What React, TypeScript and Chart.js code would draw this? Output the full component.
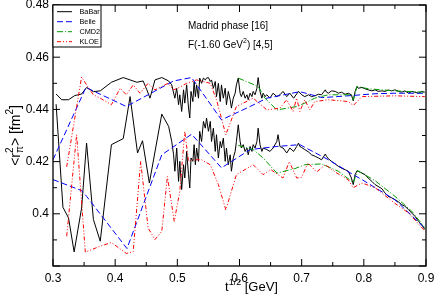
import React, { useEffect, useRef } from 'react';
import { Chart, registerables } from 'chart.js';

Chart.register(...registerables);

const FONT = '"Liberation Sans", Arial, Helvetica, sans-serif';

// ---------- axis ticks ----------
const xMajorTicks = [0.3, 0.4, 0.5, 0.6, 0.7, 0.8, 0.9];
const xMinorTicks = [0.35, 0.45, 0.55, 0.65, 0.75, 0.85];
const yMajorTicks = [0.38, 0.4, 0.42, 0.44, 0.46, 0.48];
const yMinorTicks = [0.39, 0.41, 0.43, 0.45, 0.47];
const yLabelledTicks = [0.4, 0.42, 0.44, 0.46, 0.48];

const seriesNames = ['BaBar', 'Belle', 'CMD2', 'KLOE'];
const annotationLine1 = 'Madrid phase [16]';
const annotationLine2 = ['F(-1.60 GeV', '2', ') [4,5]'];

// ---------- data: [sqrt(t) GeV, <r^2> fm^2] ----------
const babarUpper: [number, number][] = [
  [0.305, 0.4459], [0.314, 0.4437], [0.325, 0.4437], [0.335, 0.4453], [0.346, 0.4459], [0.354, 0.4484],
  [0.365, 0.4468], [0.376, 0.4471], [0.394, 0.4504], [0.413, 0.4522], [0.424, 0.4513], [0.435, 0.4504],
  [0.445, 0.4509], [0.451, 0.4475], [0.456, 0.4443], [0.464, 0.4513], [0.475, 0.4522], [0.486, 0.4509],
  [0.491, 0.4494], [0.496, 0.4443], [0.499, 0.4481], [0.502, 0.4418], [0.504, 0.4456], [0.507, 0.4392],
  [0.510, 0.4475], [0.512, 0.4424], [0.515, 0.4494], [0.518, 0.4405], [0.520, 0.4367], [0.522, 0.4469],
  [0.525, 0.4430], [0.527, 0.4507], [0.529, 0.4449], [0.531, 0.4494], [0.534, 0.4443], [0.536, 0.4520],
  [0.539, 0.4500], [0.542, 0.4520], [0.545, 0.4513], [0.547, 0.4520], [0.550, 0.4522], [0.553, 0.4507],
  [0.555, 0.4513], [0.558, 0.4481], [0.561, 0.4507], [0.563, 0.4449], [0.566, 0.4500], [0.569, 0.4430],
  [0.571, 0.4494], [0.574, 0.4443], [0.577, 0.4481], [0.579, 0.4418], [0.582, 0.4469], [0.585, 0.4437],
  [0.587, 0.4405], [0.590, 0.4443], [0.593, 0.4462], [0.595, 0.4494], [0.598, 0.4520], [0.601, 0.4462],
  [0.603, 0.4449], [0.606, 0.4469], [0.609, 0.4443], [0.612, 0.4456], [0.614, 0.4437], [0.617, 0.4462],
  [0.620, 0.4449], [0.622, 0.4469], [0.625, 0.4456], [0.628, 0.4481], [0.630, 0.4522], [0.633, 0.4469],
  [0.636, 0.4443], [0.638, 0.4462], [0.641, 0.4449], [0.644, 0.4456], [0.649, 0.4443], [0.654, 0.4462],
  [0.660, 0.4449], [0.665, 0.4456], [0.670, 0.4469], [0.676, 0.4449], [0.681, 0.4462], [0.687, 0.4443],
  [0.695, 0.4469], [0.700, 0.4456], [0.705, 0.4449], [0.711, 0.4456], [0.716, 0.4449], [0.722, 0.4453],
  [0.727, 0.4458], [0.732, 0.4456], [0.738, 0.4475], [0.740, 0.4466], [0.743, 0.4462], [0.748, 0.4471],
  [0.754, 0.4469], [0.759, 0.4462], [0.764, 0.4466], [0.770, 0.4458], [0.775, 0.4462], [0.780, 0.4456],
  [0.783, 0.4433], [0.786, 0.4469], [0.789, 0.4488], [0.791, 0.4481], [0.797, 0.4484], [0.802, 0.4479],
  [0.807, 0.4475], [0.813, 0.4471], [0.818, 0.4475], [0.823, 0.4469], [0.829, 0.4471], [0.834, 0.4469],
  [0.839, 0.4474], [0.845, 0.4471], [0.850, 0.4475], [0.856, 0.4469], [0.861, 0.4466], [0.866, 0.4471],
  [0.872, 0.4462], [0.877, 0.4469], [0.882, 0.4466], [0.888, 0.4462], [0.893, 0.4469], [0.898, 0.4466],
];

const babarLower: [number, number][] = [
  [0.305, 0.4420], [0.316, 0.4025], [0.325, 0.3984], [0.334, 0.3854], [0.346, 0.4022], [0.354, 0.4271],
  [0.365, 0.3978], [0.376, 0.3895], [0.394, 0.4265], [0.413, 0.4288], [0.424, 0.4449], [0.436, 0.4233],
  [0.444, 0.4280], [0.455, 0.4118], [0.475, 0.4382], [0.486, 0.4335],
  [0.491, 0.4277], [0.494, 0.4226], [0.496, 0.4163], [0.499, 0.4252], [0.502, 0.4124], [0.504, 0.4201],
  [0.507, 0.4093], [0.510, 0.4188], [0.512, 0.4137], [0.515, 0.4239], [0.518, 0.4150], [0.520, 0.4099],
  [0.522, 0.4214], [0.525, 0.4201], [0.527, 0.4265], [0.529, 0.4188], [0.531, 0.4252], [0.534, 0.4201],
  [0.536, 0.4316], [0.539, 0.4277], [0.542, 0.4354], [0.545, 0.4328], [0.547, 0.4367], [0.550, 0.4316],
  [0.553, 0.4354], [0.555, 0.4277], [0.558, 0.4328], [0.561, 0.4239], [0.563, 0.4303], [0.566, 0.4214],
  [0.569, 0.4277], [0.571, 0.4252], [0.574, 0.4290], [0.577, 0.4201], [0.579, 0.4252], [0.582, 0.4188],
  [0.585, 0.4226], [0.587, 0.4163], [0.590, 0.4214], [0.593, 0.4239], [0.595, 0.4277], [0.598, 0.4341],
  [0.601, 0.4277], [0.603, 0.4252], [0.606, 0.4265], [0.609, 0.4239], [0.612, 0.4252], [0.614, 0.4226],
  [0.617, 0.4258], [0.620, 0.4239], [0.622, 0.4265], [0.625, 0.4252], [0.628, 0.4277], [0.630, 0.4328],
  [0.633, 0.4265], [0.636, 0.4239], [0.638, 0.4252], [0.644, 0.4246], [0.649, 0.4239], [0.654, 0.4252],
  [0.660, 0.4277], [0.662, 0.4303], [0.665, 0.4258], [0.670, 0.4252], [0.676, 0.4233], [0.681, 0.4252],
  [0.687, 0.4239], [0.692, 0.4258], [0.695, 0.4271], [0.697, 0.4258], [0.700, 0.4254], [0.705, 0.4246],
  [0.711, 0.4237], [0.716, 0.4226], [0.722, 0.4220], [0.727, 0.4214], [0.732, 0.4207], [0.738, 0.4229],
  [0.740, 0.4220], [0.743, 0.4211], [0.748, 0.4201], [0.754, 0.4191], [0.759, 0.4182], [0.764, 0.4175],
  [0.770, 0.4169], [0.775, 0.4163], [0.780, 0.4137], [0.783, 0.4112], [0.786, 0.4150], [0.789, 0.4165],
  [0.791, 0.4163], [0.797, 0.4156], [0.802, 0.4150], [0.807, 0.4137], [0.813, 0.4124], [0.818, 0.4112],
  [0.823, 0.4105], [0.829, 0.4096], [0.834, 0.4080], [0.839, 0.4067], [0.845, 0.4061], [0.850, 0.4054],
  [0.856, 0.4045], [0.861, 0.4035], [0.866, 0.4029], [0.872, 0.4016], [0.877, 0.4003], [0.882, 0.3991],
  [0.888, 0.3971], [0.893, 0.3959], [0.898, 0.3940],
];

const belleUpper: [number, number][] = [
  [0.300, 0.4207], [0.353, 0.4484], [0.418, 0.4411], [0.494, 0.4509], [0.523, 0.4522], [0.571, 0.4360],
  [0.617, 0.4411], [0.644, 0.4443], [0.697, 0.4468], [0.716, 0.4456], [0.733, 0.4445], [0.780, 0.4453],
  [0.818, 0.4460], [0.850, 0.4462], [0.898, 0.4462],
];

const belleLower: [number, number][] = [
  [0.300, 0.4131], [0.346, 0.4089], [0.354, 0.4067], [0.419, 0.3867], [0.475, 0.4226], [0.523, 0.4305],
  [0.571, 0.4176], [0.617, 0.4246], [0.660, 0.4258], [0.697, 0.4265], [0.743, 0.4207], [0.783, 0.4150],
  [0.797, 0.4131], [0.850, 0.4054], [0.898, 0.3945],
];

const cmd2Upper: [number, number][] = [
  [0.598, 0.4520], [0.630, 0.4488], [0.641, 0.4443], [0.660, 0.4398], [0.692, 0.4411], [0.705, 0.4424],
  [0.721, 0.4443], [0.743, 0.4456], [0.780, 0.4456], [0.783, 0.4437], [0.789, 0.4488], [0.807, 0.4479],
  [0.850, 0.4471], [0.898, 0.4466],
];

const cmd2Lower: [number, number][] = [
  [0.598, 0.4262], [0.622, 0.4246], [0.638, 0.4214], [0.660, 0.4156], [0.689, 0.4173], [0.705, 0.4188],
  [0.732, 0.4191], [0.759, 0.4163], [0.783, 0.4120], [0.790, 0.4165], [0.818, 0.4127], [0.850, 0.4067],
  [0.877, 0.4010], [0.898, 0.3947],
];

const kloeUpper: [number, number][] = [
  [0.322, 0.4180], [0.346, 0.4524], [0.354, 0.4494], [0.365, 0.4456], [0.376, 0.4443], [0.394, 0.4418],
  [0.408, 0.4481], [0.418, 0.4456], [0.429, 0.4494], [0.440, 0.4462], [0.453, 0.4500], [0.464, 0.4475],
  [0.475, 0.4488], [0.485, 0.4500], [0.494, 0.4475], [0.504, 0.4485], [0.515, 0.4500], [0.531, 0.4513],
  [0.553, 0.4500], [0.563, 0.4437], [0.578, 0.4303], [0.595, 0.4411], [0.622, 0.4443], [0.644, 0.4398],
  [0.665, 0.4405], [0.676, 0.4437], [0.686, 0.4392], [0.692, 0.4443], [0.697, 0.4392], [0.705, 0.4437],
  [0.713, 0.4398], [0.721, 0.4430], [0.743, 0.4437], [0.775, 0.4430], [0.783, 0.4415], [0.797, 0.4449],
  [0.850, 0.4452], [0.898, 0.4449],
];

const kloeLower: [number, number][] = [
  [0.322, 0.3914], [0.338, 0.4303], [0.352, 0.3853], [0.376, 0.3876], [0.394, 0.3890], [0.418, 0.3848],
  [0.429, 0.3855], [0.441, 0.4201], [0.453, 0.3946], [0.464, 0.3901], [0.475, 0.3933], [0.484, 0.4143],
  [0.495, 0.3971], [0.504, 0.4086], [0.512, 0.4316], [0.518, 0.4201], [0.526, 0.4207], [0.539, 0.4207],
  [0.553, 0.4188], [0.566, 0.4112], [0.578, 0.4015], [0.595, 0.4150], [0.622, 0.4188], [0.638, 0.4150],
  [0.650, 0.4170], [0.670, 0.4137], [0.680, 0.4200], [0.692, 0.4137], [0.700, 0.4140], [0.710, 0.4195],
  [0.724, 0.4160], [0.738, 0.4188], [0.754, 0.4160], [0.775, 0.4130], [0.783, 0.4100], [0.797, 0.4118],
  [0.818, 0.4100], [0.850, 0.4040], [0.872, 0.4003], [0.898, 0.3935],
];

// ---------- styles ----------
const seriesStyle: Record<string, { color: string; dash: number[] }> = {
  BaBar: { color: '#000000', dash: [] },
  Belle: { color: '#0000ff', dash: [6, 3] },
  CMD2: { color: '#009a00', dash: [6, 2, 1, 2] },
  KLOE: { color: '#ff0000', dash: [4, 2, 1, 2, 1, 2] },
};

const toPoints = (arr: [number, number][]) => arr.map(([x, y]) => ({ x, y }));

const makeDataset = (name: string, arr: [number, number][]) => ({
  label: name,
  data: toPoints(arr),
  borderColor: seriesStyle[name].color,
  borderDash: seriesStyle[name].dash,
  borderWidth: 1,
  pointRadius: 0,
  fill: false,
  tension: 0,
});

const framePlugin = {
  id: 'frameTicks',
  afterDatasetsDraw(chart: any) {
    const { ctx, chartArea, scales } = chart;
    const { left, right, top, bottom } = chartArea;
    const xs = scales.x;
    const ys = scales.y;
    ctx.save();
    ctx.strokeStyle = '#000';
    ctx.lineWidth = 1.3;
    ctx.setLineDash([]);
    ctx.strokeRect(left, top, right - left, bottom - top);
    ctx.lineWidth = 1;
    const tick = (x1: number, y1: number, x2: number, y2: number) => {
      ctx.beginPath();
      ctx.moveTo(x1, y1);
      ctx.lineTo(x2, y2);
      ctx.stroke();
    };
    xMajorTicks.forEach((v) => {
      const p = xs.getPixelForValue(v);
      tick(p, bottom, p, bottom - 7);
      tick(p, top, p, top + 7);
    });
    xMinorTicks.forEach((v) => {
      const p = xs.getPixelForValue(v);
      tick(p, bottom, p, bottom - 4);
      tick(p, top, p, top + 4);
    });
    yMajorTicks.forEach((v) => {
      const p = ys.getPixelForValue(v);
      tick(left, p, left + 7, p);
      tick(right, p, right - 7, p);
    });
    yMinorTicks.forEach((v) => {
      const p = ys.getPixelForValue(v);
      tick(left, p, left + 4, p);
      tick(right, p, right - 4, p);
    });
    ctx.restore();
  },
};

const legendPlugin = {
  id: 'boxLegend',
  afterDraw(chart: any) {
    const { ctx, chartArea } = chart;
    const { left, top } = chartArea;
    ctx.save();
    ctx.fillStyle = '#fff';
    ctx.fillRect(left, top, 48, 42);
    ctx.strokeStyle = '#000';
    ctx.lineWidth = 1;
    ctx.setLineDash([]);
    ctx.strokeRect(left, top, 48, 42);
    ctx.font = `7.3px ${FONT}`;
    ctx.textBaseline = 'middle';
    ctx.textAlign = 'left';
    seriesNames.forEach((name, i) => {
      const y = top + 6.7 + i * 10;
      const st = seriesStyle[name];
      ctx.strokeStyle = st.color;
      ctx.setLineDash(st.dash);
      ctx.beginPath();
      ctx.moveTo(left + 4, y);
      ctx.lineTo(left + 19, y);
      ctx.stroke();
      ctx.setLineDash([]);
      ctx.fillStyle = '#000';
      ctx.fillText(name, left + 26.5, y + 0.5);
    });
    ctx.restore();
  },
};

const textPlugin = {
  id: 'texts',
  afterDraw(chart: any) {
    const { ctx, chartArea } = chart;
    const { left, right, top, bottom } = chartArea;
    ctx.save();
    ctx.fillStyle = '#000';
    ctx.textAlign = 'left';
    ctx.textBaseline = 'alphabetic';

    // annotation
    const ax = 188;
    ctx.font = `10px ${FONT}`;
    ctx.fillText(annotationLine1, ax, 28.5);
    let cx = ax;
    ctx.fillText(annotationLine2[0], cx, 47.5);
    cx += ctx.measureText(annotationLine2[0]).width;
    ctx.font = `7px ${FONT}`;
    ctx.fillText(annotationLine2[1], cx, 43);
    cx += ctx.measureText(annotationLine2[1]).width;
    ctx.font = `10px ${FONT}`;
    ctx.fillText(annotationLine2[2], cx, 47.5);

    // x title: t^{1/2} [GeV]
    const big = `13px ${FONT}`;
    const small = `9px ${FONT}`;
    ctx.font = big;
    const wT = ctx.measureText('t').width;
    const wRest = ctx.measureText(' [GeV]').width;
    ctx.font = small;
    const wSup = ctx.measureText('1/2').width;
    const total = wT + wSup + wRest;
    let x = (left + right) / 2 + 12 - total / 2;
    const by = 291;
    ctx.font = big;
    ctx.fillText('t', x, by);
    x += wT;
    ctx.font = small;
    ctx.fillText('1/2', x, by - 6);
    x += wSup;
    ctx.font = big;
    ctx.fillText(' [GeV]', x, by);

    // y title: <r_pi^2> [fm^2]
    const ybig = `14px ${FONT}`;
    const ysmall = `10px ${FONT}`;
    ctx.translate(20, (top + bottom) / 2);
    ctx.rotate(-Math.PI / 2);
    ctx.font = ybig;
    const w1 = ctx.measureText('<r').width;
    const w3 = ctx.measureText('> [fm').width;
    const w5 = ctx.measureText(']').width;
    ctx.font = ysmall;
    const wPi = ctx.measureText('\u03c0').width;
    const w2 = ctx.measureText('2').width;
    const tot = w1 + Math.max(wPi, w2) + w3 + w2 + w5;
    let t = -tot / 2;
    ctx.font = ybig;
    ctx.fillText('<r', t, 0);
    t += w1;
    ctx.font = ysmall;
    ctx.fillText('\u03c0', t, 3);
    ctx.fillText('2', t, -7);
    t += Math.max(wPi, w2);
    ctx.font = ybig;
    ctx.fillText('> [fm', t, 0);
    t += w3;
    ctx.font = ysmall;
    ctx.fillText('2', t, -7);
    t += w2;
    ctx.font = ybig;
    ctx.fillText(']', t, 0);
    ctx.restore();
  },
};

export default function App() {
  const canvasRef = useRef<HTMLCanvasElement | null>(null);

  useEffect(() => {
    if (!canvasRef.current) return;
    const datasets = [
      makeDataset('KLOE', kloeUpper),
      makeDataset('KLOE', kloeLower),
      makeDataset('CMD2', cmd2Upper),
      makeDataset('CMD2', cmd2Lower),
      makeDataset('Belle', belleUpper),
      makeDataset('Belle', belleLower),
      makeDataset('BaBar', babarUpper),
      makeDataset('BaBar', babarLower),
    ];
    const chart = new Chart(canvasRef.current, {
      type: 'line',
      data: { datasets },
      options: {
        responsive: false,
        animation: false,
        events: [],
        layout: { padding: { top: 5, right: 10, left: 0, bottom: 0 } },
        plugins: { legend: { display: false }, tooltip: { enabled: false } },
        scales: {
          x: {
            type: 'linear',
            min: 0.3,
            max: 0.9,
            grid: { display: false, drawTicks: false },
            border: { display: false },
            ticks: {
              color: '#000',
              font: { family: FONT, size: 12 },
              padding: 5,
              maxRotation: 0,
              callback: (v: any) => Number(v).toFixed(1),
            },
            afterBuildTicks: (s: any) => {
              s.ticks = xMajorTicks.map((v) => ({ value: v }));
            },
            afterFit: (s: any) => {
              s.height = 36;
              s.paddingLeft = 0;
              s.paddingRight = 0;
            },
          },
          y: {
            type: 'linear',
            min: 0.38,
            max: 0.48,
            grid: { display: false, drawTicks: false },
            border: { display: false },
            ticks: {
              color: '#000',
              font: { family: FONT, size: 12 },
              padding: 4,
              callback: (v: any) => String(parseFloat(Number(v).toFixed(2))),
            },
            afterBuildTicks: (s: any) => {
              s.ticks = yLabelledTicks.map((v) => ({ value: v }));
            },
            afterFit: (s: any) => {
              s.width = 53;
              s.paddingTop = 0;
              s.paddingBottom = 0;
            },
          },
        },
      },
      plugins: [framePlugin, legendPlugin, textPlugin],
    });
    return () => chart.destroy();
  }, []);

  return (
    <div style={{ position: 'absolute', left: 0, top: 0, width: 436, height: 302, background: '#fff' }}>
      <canvas ref={canvasRef} width={436} height={302} style={{ display: 'block' }} />
    </div>
  );
}
